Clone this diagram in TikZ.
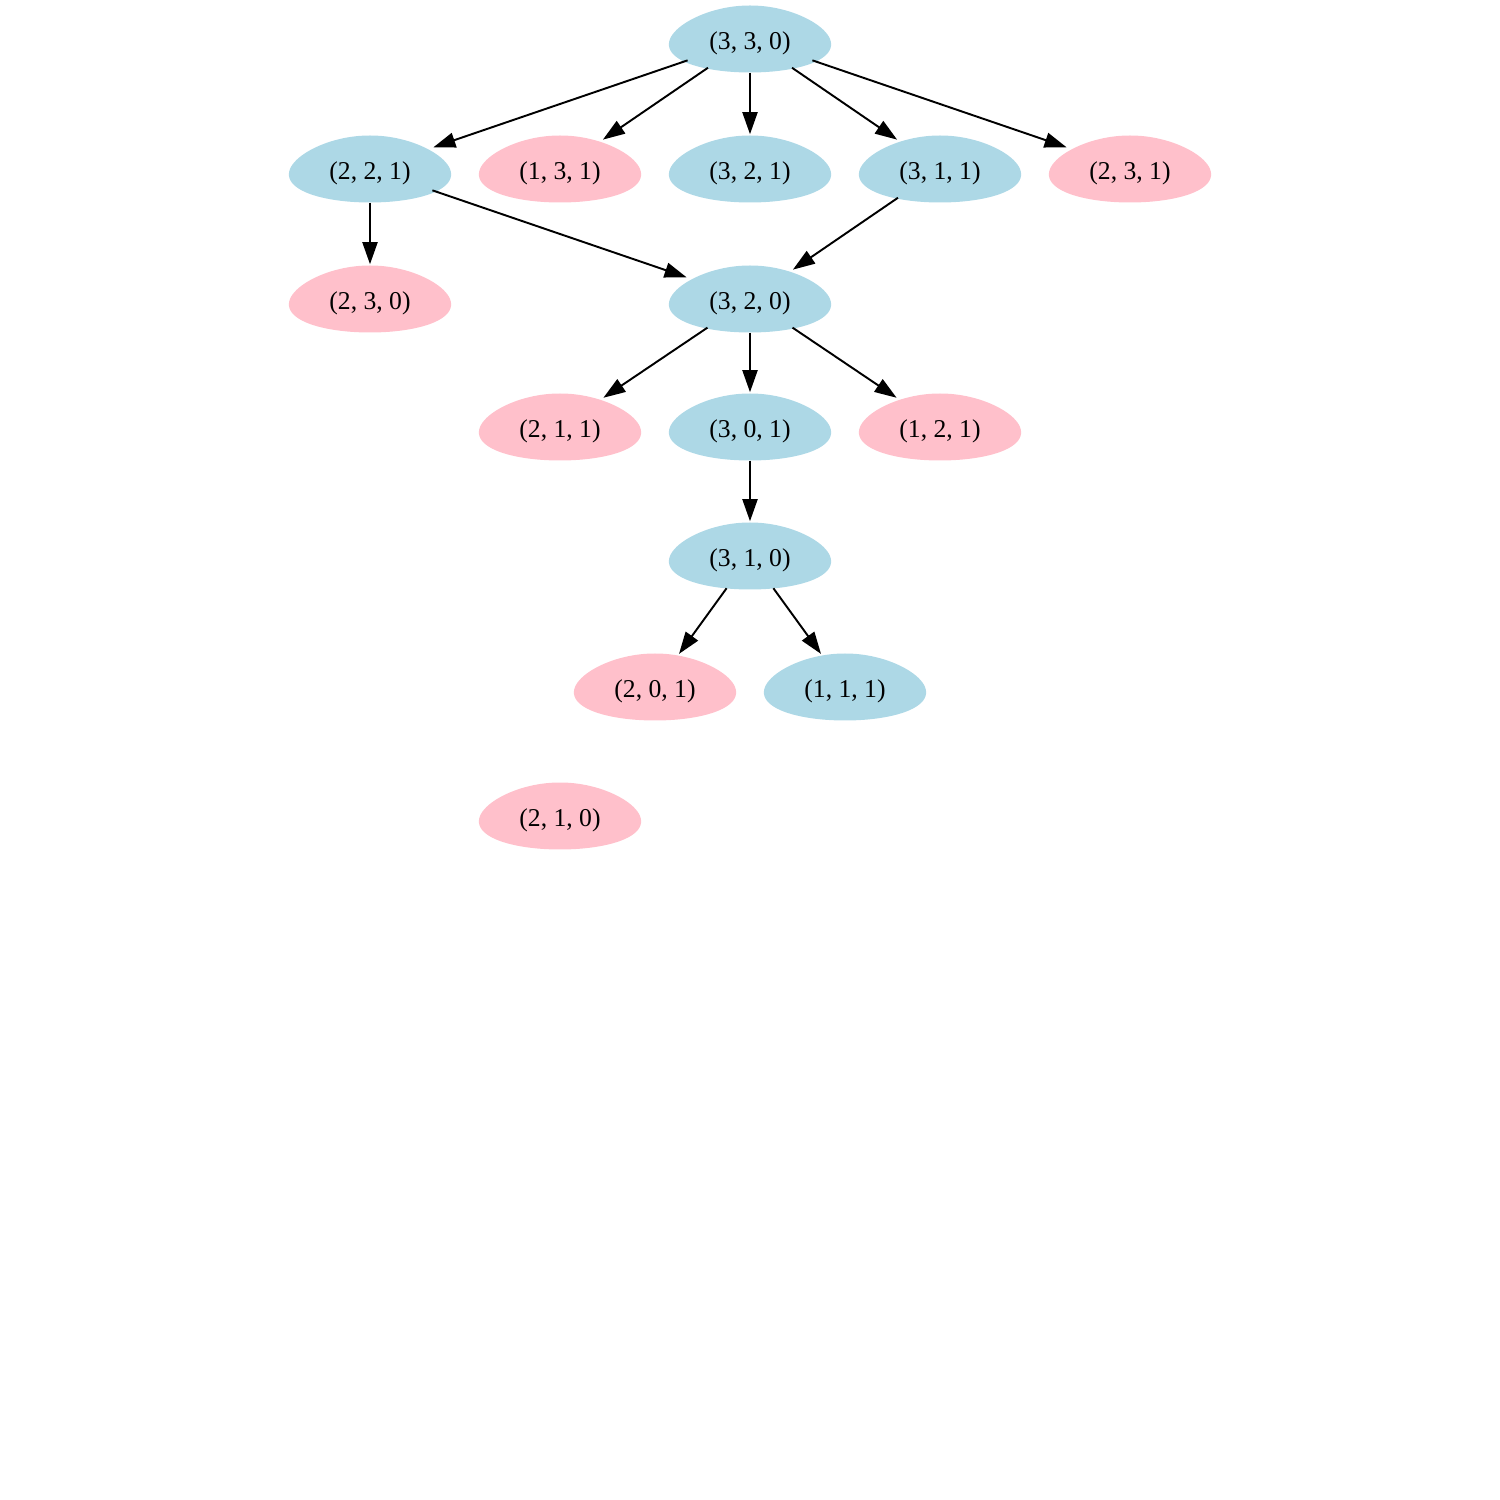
\documentclass[tikz,border=0pt]{standalone}
\usepackage{fontspec}
\setmainfont{Liberation Serif}
\usetikzlibrary{arrows.meta,backgrounds,shapes.geometric}

\definecolor{stateblue}{RGB}{173,216,230}
\definecolor{statepink}{RGB}{255,192,203}

\tikzset{
  state/.style={shape=ellipse, minimum width=1.6cm, minimum height=0.66cm,
    inner sep=0pt, font=\fontsize{7.3}{8}\selectfont},
  move/.style={line width=0.55pt, -{Triangle[length=0.22cm,width=0.15cm]}, shorten >=0.3pt},
}

% egg-shaped filled background behind a named node
\newcommand{\eggstate}[5]{%
  \node[state] (#1) at (#2,#3) {\raisebox{-0.11cm}[0pt][0pt]{#5}};
  \begin{scope}[on background layer]
    \fill[#4, shift={(#1.center)}]
      plot[domain=0:356, samples=90, smooth]
      ({0.8*cos(\x)*(1-0.17*sin(\x))},{0.335*sin(\x)}) -- cycle;
  \end{scope}%
}

\begin{document}
\begin{tikzpicture}
  \useasboundingbox (0,0) rectangle (15,15);

  \eggstate{s330}{7.50}{14.61}{stateblue}{(3, 3, 0)}
  \eggstate{s221}{3.70}{13.31}{stateblue}{(2, 2, 1)}
  \eggstate{s131}{5.60}{13.31}{statepink}{(1, 3, 1)}
  \eggstate{s321}{7.50}{13.31}{stateblue}{(3, 2, 1)}
  \eggstate{s311}{9.40}{13.31}{stateblue}{(3, 1, 1)}
  \eggstate{s231}{11.30}{13.31}{statepink}{(2, 3, 1)}
  \eggstate{s230}{3.70}{12.01}{statepink}{(2, 3, 0)}
  \eggstate{s320}{7.50}{12.01}{stateblue}{(3, 2, 0)}
  \eggstate{s211}{5.60}{10.73}{statepink}{(2, 1, 1)}
  \eggstate{s301}{7.50}{10.73}{stateblue}{(3, 0, 1)}
  \eggstate{s121}{9.40}{10.73}{statepink}{(1, 2, 1)}
  \eggstate{s310}{7.50}{9.44}{stateblue}{(3, 1, 0)}
  \eggstate{s201}{6.55}{8.13}{statepink}{(2, 0, 1)}
  \eggstate{s111}{8.45}{8.13}{stateblue}{(1, 1, 1)}
  \eggstate{s210}{5.60}{6.84}{statepink}{(2, 1, 0)}

  \draw[move] (s330) -- (s221);
  \draw[move] (s330) -- (s131);
  \draw[move] (s330) -- (s321);
  \draw[move] (s330) -- (s311);
  \draw[move] (s330) -- (s231);
  \draw[move] (s221) -- (s230);
  \draw[move] (s221) -- (s320);
  \draw[move] (s311) -- (s320);
  \draw[move] (s320) -- (s211);
  \draw[move] (s320) -- (s301);
  \draw[move] (s320) -- (s121);
  \draw[move] (s301) -- (s310);
  \draw[move] (s310) -- (s201);
  \draw[move] (s310) -- (s111);
\end{tikzpicture}
\end{document}
